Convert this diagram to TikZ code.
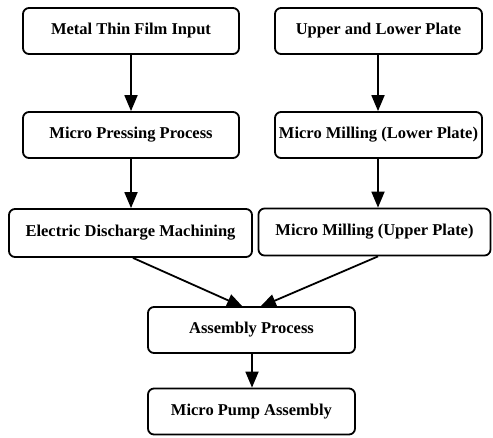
\documentclass[tikz,border=0pt]{standalone}
\usepackage{fontspec}
\setmainfont{Liberation Serif}
\usetikzlibrary{arrows.meta}
\begin{document}
\begin{tikzpicture}[x=1pt,y=-1pt,
  stepbox/.style={draw=black, line width=1.8pt, rounded corners=6pt, fill=white,
    minimum height=46pt, inner sep=0pt, font=\fontsize{16.5}{19}\selectfont\bfseries},
  flow/.style={line width=1.8pt, -{Triangle[length=16pt,width=13pt]}}]
\useasboundingbox (0,0) rectangle (493,437);
% left column
\node[stepbox, minimum width=216pt] (film)  at (131,31)  {Metal Thin Film Input};
\node[stepbox, minimum width=216pt] (press) at (131,135) {Micro Pressing Process};
\node[stepbox, minimum width=243pt, minimum height=48pt] (edm) at (130.5,233) {Electric Discharge Machining};
% right column
\node[stepbox, minimum width=207pt] (plate) at (378.5,31)  {Upper and Lower Plate};
\node[stepbox, minimum width=207pt] (lower) at (378.5,135) {Micro Milling (Lower Plate)};
\node[stepbox, minimum width=232pt, minimum height=47pt] (upper) at (374.5,232) {Micro Milling (Upper Plate)};
% joined flow
\node[stepbox, minimum width=207pt] (asm)  at (251.5,330)   {Assembly Process};
\node[stepbox, minimum width=207pt] (pump) at (251.5,411.5) {Micro Pump Assembly};
% connectors
\draw[flow] (film.south -| 131,0) -- (press.north -| 131,0);
\draw[flow] (press.south -| 131,0) -- (edm.north -| 131,0);
\draw[flow] (plate.south -| 378,0) -- (lower.north -| 378,0);
\draw[flow] (lower.south -| 378,0) -- (upper.north -| 378,0);
\coordinate (inL) at (243,307);
\coordinate (inR) at (260,307);
\draw[flow] (edm.south -| 133,0) -- (inL);
\draw[flow] (upper.south -| 378,0) -- (inR);
\draw[flow] (asm.south -| 252,0) -- (pump.north -| 252,0);
\end{tikzpicture}
\end{document}
